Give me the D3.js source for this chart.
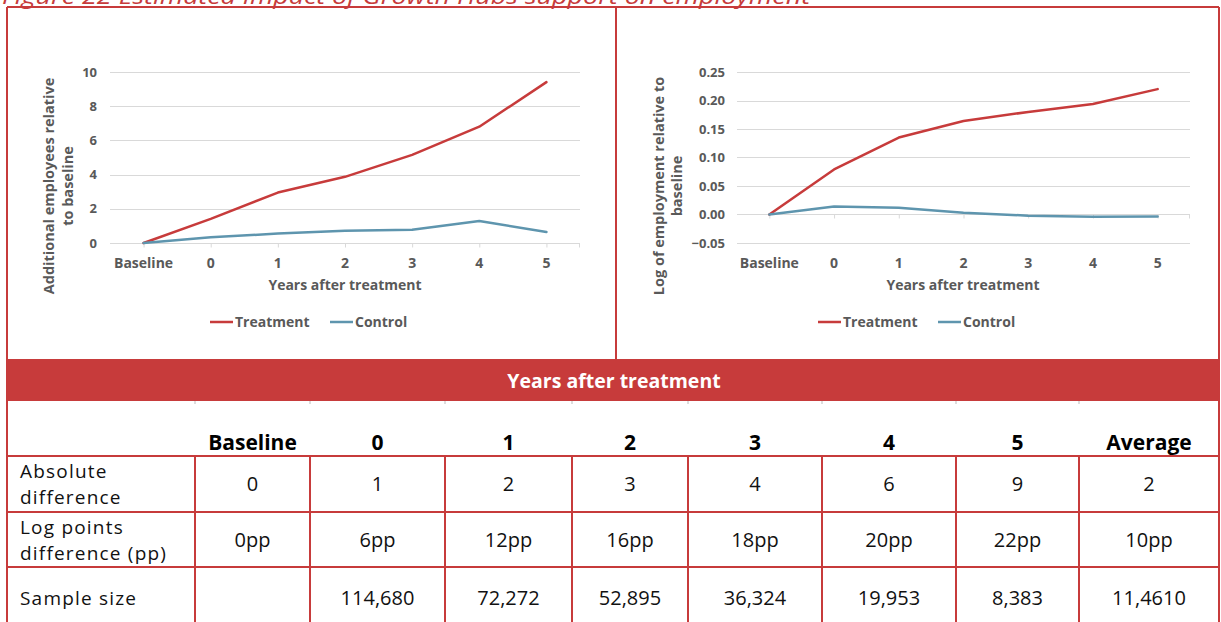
<!DOCTYPE html>
<html>
<head>
<meta charset="utf-8">
<script src="https://cdn.jsdelivr.net/npm/d3@7"></script>
<style>
  html, body { margin: 0; padding: 0; background: #fff; }
  svg { display: block; }
  text { font-family: "Open Sans", "DejaVu Sans", sans-serif; }
</style>
</head>
<body>
<svg id="fig" width="1221" height="622"></svg>
<script>
// ---- Data ----
const categories = ["Baseline", "0", "1", "2", "3", "4", "5"];
const treatmentAbs = [0, 1.41, 2.95, 3.87, 5.15, 6.8, 9.41];
const controlAbs = [0, 0.33, 0.55, 0.72, 0.78, 1.29, 0.64];
const treatmentLog = [0, 0.079, 0.135, 0.164, 0.180, 0.194, 0.220];
const controlLog = [0, 0.014, 0.012, 0.003, -0.002, -0.004, -0.0035];
const absTicks = [0, 2, 4, 6, 8, 10];
const logTicks = [-0.05, 0, 0.05, 0.10, 0.15, 0.20, 0.25];

const tableColumns = ["Baseline", "0", "1", "2", "3", "4", "5", "Average"];
const rowLabels = [["Absolute", "difference"], ["Log points", "difference (pp)"], ["Sample size"]];
const absDifference = ["0", "1", "2", "3", "4", "6", "9", "2"];
const logDifference = ["0pp", "6pp", "12pp", "16pp", "18pp", "20pp", "22pp", "10pp"];
const sampleSize = ["", "114,680", "72,272", "52,895", "36,324", "19,953", "8,383", "11,4610"];

const RED = "#C73B3B";
const BLUE = "#5E95AE";
const GREY_TEXT = "#595959";
const GRID = "#d9d9d9";

const svg = d3.select("#fig");

// ---- Figure caption (partly above the frame) ----
svg.append("text")
  .attr("x", 2).attr("y", 4)
  .attr("fill", RED)
  .attr("font-style", "italic")
  .attr("font-size", 21)
  .attr("textLength", 808)
  .attr("lengthAdjust", "spacingAndGlyphs")
  .text("Figure 22 Estimated impact of Growth Hubs support on employment");

// ---- Line chart panel ----
function drawPanel(opts) {
  const g = svg.append("g");
  const x = d3.scalePoint().domain(categories).range(opts.xRange).padding(0.5);
  const y = d3.scaleLinear().domain(opts.yDomain).range([243, 72]);

  // gridlines
  g.append("g").selectAll("line").data(opts.ticks).join("line")
    .attr("x1", opts.xRange[0]).attr("x2", opts.xRange[1])
    .attr("y1", d => Math.round(y(d)) + 0.5).attr("y2", d => Math.round(y(d)) + 0.5)
    .attr("stroke", GRID).attr("stroke-width", 1);

  // y tick labels
  const yAxis = d3.axisLeft(y).tickValues(opts.ticks).tickFormat(opts.fmt).tickSize(0).tickPadding(0);
  const ya = g.append("g").attr("transform", `translate(${opts.yLabelX},0)`).call(yAxis);
  ya.select(".domain").remove();
  ya.selectAll("text").attr("fill", GREY_TEXT).attr("font-size", 13).attr("font-weight", "bold")
    .attr("font-family", "'Open Sans', sans-serif");

  // category axis along zero
  const y0 = Math.round(y(0)) + 0.5;
  const xAxis = d3.axisBottom(x).tickSize(4).tickPadding(0).tickFormat("");
  const xa = g.append("g").attr("transform", `translate(0,${y0})`).call(xAxis);
  xa.select(".domain").remove();
  xa.selectAll("line").attr("stroke", GRID);
  g.append("line").attr("x1", opts.xRange[1] - 0.5).attr("x2", opts.xRange[1] - 0.5)
    .attr("y1", y0).attr("y2", y0 + 4).attr("stroke", GRID);

  g.append("g").selectAll("text").data(categories).join("text")
    .attr("x", d => x(d)).attr("y", 268)
    .attr("text-anchor", "middle").attr("fill", GREY_TEXT)
    .attr("font-size", 14).attr("font-weight", "bold")
    .text(d => d);

  g.append("text").attr("x", opts.xTitleX).attr("y", 290)
    .attr("text-anchor", "middle").attr("fill", GREY_TEXT)
    .attr("font-size", 14).attr("font-weight", "bold")
    .text("Years after treatment");

  // y title (two lines, rotated)
  opts.yTitle.forEach((t, i) => {
    g.append("text")
      .attr("transform", `translate(${opts.yTitleX[i]},186) rotate(-90)`)
      .attr("text-anchor", "middle").attr("dominant-baseline", "central")
      .attr("fill", GREY_TEXT).attr("font-size", 14.5).attr("font-weight", "bold")
      .text(t);
  });

  // series
  const line = d3.line().x((d, i) => x(categories[i])).y(d => y(d));
  [[opts.treatment, RED], [opts.control, BLUE]].forEach(([vals, col]) => {
    g.append("path").datum(vals).attr("d", line)
      .attr("fill", "none").attr("stroke", col).attr("stroke-width", 2.5)
      .attr("stroke-linejoin", "round").attr("stroke-linecap", "round");
  });

  // legend
  const lg = g.append("g").attr("transform", `translate(${opts.legendX},322)`);
  const items = [["Treatment", RED, 0], ["Control", BLUE, 120]];
  items.forEach(([name, col, dx]) => {
    lg.append("line").attr("x1", dx).attr("x2", dx + 23).attr("y1", 0).attr("y2", 0)
      .attr("stroke", col).attr("stroke-width", 2.5);
    lg.append("text").attr("x", dx + 25).attr("y", 5)
      .attr("fill", GREY_TEXT).attr("font-size", 14).attr("font-weight", "bold")
      .text(name);
  });
}

drawPanel({
  xRange: [110, 580], yDomain: [0, 10], ticks: absTicks, fmt: d3.format("d"),
  yLabelX: 97, xTitleX: 345, yTitle: ["Additional employees relative", "to baseline"], yTitleX: [48, 67],
  treatment: treatmentAbs, control: controlAbs, legendX: 210
});
drawPanel({
  xRange: [737, 1190], yDomain: [-0.05, 0.25], ticks: logTicks, fmt: d3.format(".2f"),
  yLabelX: 725, xTitleX: 963, yTitle: ["Log of employment relative to", "baseline"], yTitleX: [658, 676],
  treatment: treatmentLog, control: controlLog, legendX: 818
});

// ---- Table ----
const colEdges = [7, 195, 310, 445, 572, 688, 822, 956, 1079, 1219];
const colCenter = i => (colEdges[i + 1] + colEdges[i + 2]) / 2;

// red header bar
svg.append("rect").attr("x", 7).attr("y", 359).attr("width", 1212).attr("height", 42).attr("fill", RED);
svg.append("text").attr("x", 614).attr("y", 388).attr("text-anchor", "middle")
  .attr("fill", "#fff").attr("font-size", 19.5).attr("font-weight", "bold")
  .text("Years after treatment");

// short marks under the bar at column edges
svg.append("g").selectAll("line").data(colEdges.slice(1, -1)).join("line")
  .attr("x1", d => d).attr("x2", d => d).attr("y1", 401).attr("y2", 404)
  .attr("stroke", "#bbb").attr("stroke-width", 1);

// column headings
svg.append("g").selectAll("text").data(tableColumns).join("text")
  .attr("x", (d, i) => colCenter(i)).attr("y", 450)
  .attr("text-anchor", "middle").attr("fill", "#000")
  .attr("font-size", 21).attr("font-weight", "bold")
  .text(d => d);

// body rows
const rows = [
  { label: rowLabels[0], values: absDifference, top: 456, bottom: 512 },
  { label: rowLabels[1], values: logDifference, top: 512, bottom: 567 },
  { label: rowLabels[2], values: sampleSize, top: 567, bottom: 630 }
];
rows.forEach(r => {
  const mid = r.bottom === 630 ? 598 : (r.top + r.bottom) / 2;
  const n = r.label.length;
  r.label.forEach((t, k) => {
    svg.append("text").attr("fill", "#111").attr("font-size", 19).attr("letter-spacing", 1.2)
      .attr("x", 20).attr("y", mid + 7 + (k - (n - 1) / 2) * 26).text(t);
  });
  svg.append("g").selectAll("text").data(r.values).join("text")
    .attr("x", (d, i) => colCenter(i)).attr("y", mid + 7)
    .attr("text-anchor", "middle").attr("fill", "#111").attr("font-size", 20)
    .text(d => d);
});

// table grid
const grid = svg.append("g").attr("stroke", RED).attr("stroke-width", 2).attr("fill", "none");
[456, 512, 567].forEach(yy => grid.append("line").attr("x1", 7).attr("x2", 1219).attr("y1", yy).attr("y2", yy));
colEdges.slice(1, -1).forEach(xx => grid.append("line").attr("x1", xx).attr("x2", xx).attr("y1", 456).attr("y2", 622));

// outer frame and panel divider
grid.append("line").attr("x1", 7).attr("x2", 1219).attr("y1", 7).attr("y2", 7);
grid.append("line").attr("x1", 7).attr("x2", 7).attr("y1", 7).attr("y2", 622);
grid.append("line").attr("x1", 1219).attr("x2", 1219).attr("y1", 7).attr("y2", 622);
grid.append("line").attr("x1", 616).attr("x2", 616).attr("y1", 7).attr("y2", 359);
</script>
</body>
</html>
